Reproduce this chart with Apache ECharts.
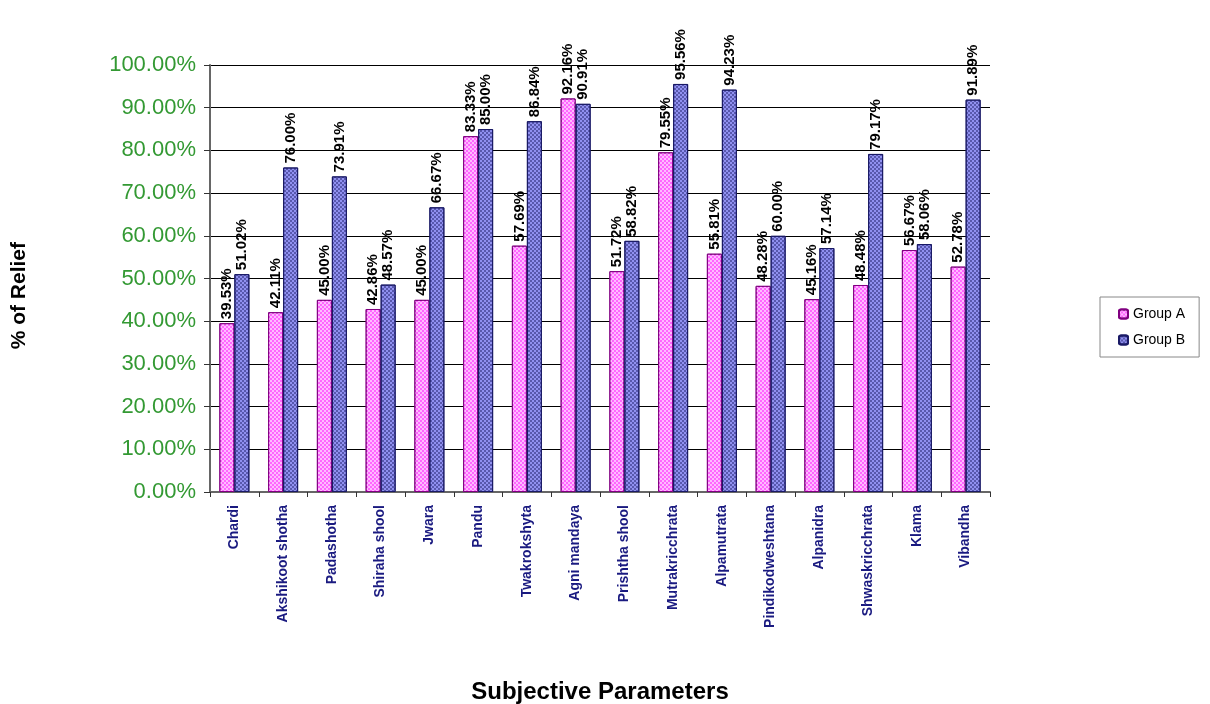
<!DOCTYPE html>
<html>
<head>
<meta charset="utf-8">
<script src="https://cdn.jsdelivr.net/npm/echarts@6/dist/echarts.min.js"></script>
<style>
	html, body { margin: 0; padding: 0; background: #fff; }
</style>
</head>
<body>
<div id="chart" style="width: 1210px;height:704px;"></div>
<script>
	// categories (subjective parameters)
	var categories = ['Chardi', 'Akshikoot shotha', 'Padashotha', 'Shiraha shool', 'Jwara', 'Pandu',
		'Twakrokshyta', 'Agni mandaya', 'Prishtha shool', 'Mutrakricchrata', 'Alpamutrata',
		'Pindikodweshtana', 'Alpanidra', 'Shwaskricchrata', 'Klama', 'Vibandha'];
	// % of relief
	var groupA = [39.53, 42.11, 45.00, 42.86, 45.00, 83.33, 57.69, 92.16, 51.72, 79.55, 55.81, 48.28, 45.16, 48.48, 56.67, 52.78];
	var groupB = [51.02, 76.00, 73.91, 48.57, 66.67, 85.00, 86.84, 90.91, 58.82, 95.56, 94.23, 60.00, 57.14, 79.17, 58.06, 91.89];

	var myChart = echarts.init(document.getElementById('chart'));

	var labelStyle = {
		show: true,
		position: 'top',
		rotate: 90,
		align: 'left',
		verticalAlign: 'middle',
		distance: 4,
		color: '#000',
		fontFamily: 'Liberation Sans',
		fontWeight: 'bold',
		fontSize: 15,
		formatter: function (p) {
			return p.value.toFixed(2) + '%';
		}
	};

	var option = {
		animation: false,
		grid: {
			top: 65,
			left: 210,
			right: 220,
			bottom: 212,
			outerBoundsMode: 'none'
		},
		graphic: [{
			// y axis title, sits a bit lower than the plot centre
			type: 'text',
			left: 9,
			top: 242,
			rotation: Math.PI / 2,
			style: {
				text: '% of Relief',
				fontFamily: 'Liberation Sans',
				fontWeight: 'bold',
				fontSize: 21,
				fill: '#000'
			}
		}],
		legend: {
			orient: 'vertical',
			left: 1100,
			top: 297,
			itemWidth: 9,
			itemHeight: 9,
			itemGap: 12,
			padding: [10, 14, 10, 18],
			borderColor: '#888',
			borderWidth: 1,
			textStyle: {
				fontFamily: 'Liberation Sans',
				fontSize: 14,
				color: '#000'
			},
			data: ['Group A', 'Group B']
		},
		xAxis: {
			type: 'category',
			data: categories,
			name: 'Subjective Parameters',
			nameLocation: 'middle',
			nameGap: 188,
			nameTextStyle: {
				fontFamily: 'Liberation Sans',
				fontWeight: 'bold',
				fontSize: 24,
				color: '#000'
			},
			axisLine: { lineStyle: { color: '#666', width: 2 } },
			axisTick: { show: true, length: 5, lineStyle: { color: '#333' } },
			axisLabel: {
				rotate: 90,
				interval: 0,
				margin: 13,
				color: '#1a1a80',
				fontFamily: 'Liberation Sans',
				fontWeight: 'bold',
				fontSize: 14
			}
		},
		yAxis: {
			type: 'value',
			min: 0,
			max: 100,
			interval: 10,
			axisLine: { show: true, lineStyle: { color: '#666', width: 2 } },
			axisTick: { show: true, length: 6, lineStyle: { color: '#333' } },
			splitLine: { lineStyle: { color: '#000', width: 1 } },
			axisLabel: {
				margin: 14,
				color: '#339933',
				fontFamily: 'Liberation Sans',
				fontSize: 22,
				formatter: function (v) {
					return v.toFixed(2) + '%';
				}
			}
		},
		series: [{
			name: 'Group A',
			type: 'bar',
			data: groupA,
			barWidth: 15,
			barGap: '0%',
			itemStyle: {
				color: '#ff66ff',
				borderColor: '#800080',
				borderWidth: 1,
				decal: {
					symbol: 'rect',
					color: 'rgba(255,255,255,0.55)',
					dashArrayX: [[2, 2], [0, 2, 2, 0]],
					dashArrayY: [2, 0],
					symbolSize: 1,
					rotation: 0
				}
			},
			label: labelStyle
		}, {
			name: 'Group B',
			type: 'bar',
			data: groupB,
			barWidth: 15,
			itemStyle: {
				color: '#9090f0',
				borderColor: '#1a1a66',
				borderWidth: 1,
				decal: {
					symbol: 'rect',
					color: 'rgba(20,20,90,0.45)',
					dashArrayX: [[2, 2], [0, 2, 2, 0]],
					dashArrayY: [2, 0],
					symbolSize: 1,
					rotation: 0
				}
			},
			label: labelStyle
		}]
	};
	myChart.setOption(option);
</script>
</body>
</html>
